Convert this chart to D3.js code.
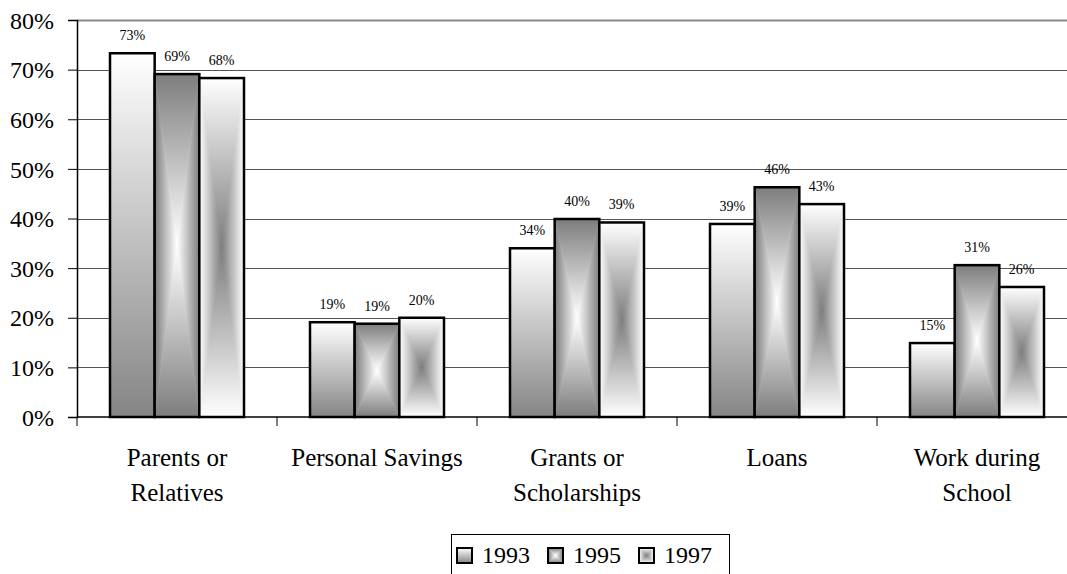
<!DOCTYPE html>
<meta charset="utf-8">
<style>
  body { margin: 0; background: #fff; }
  svg text { font-family: "Liberation Serif", "Times New Roman", serif; fill: #000; }
</style>
<svg width="1067" height="574"></svg>
<script src="https://d3js.org/d3.v7.min.js"></script>
<script>
  // data
  var categories = [["Parents or", "Relatives"], ["Personal Savings"], ["Grants or", "Scholarships"], ["Loans"], ["Work during", "School"]];
  var years = ["1993", "1995", "1997"];
  var v1993 = [73.3, 19.1, 34.0, 38.9, 14.9];
  var v1995 = [69.1, 18.8, 39.9, 46.3, 30.6];
  var v1997 = [68.3, 20.0, 39.2, 42.9, 26.2];
  var yTicks = [0, 10, 20, 30, 40, 50, 60, 70, 80];

  var series = [v1993, v1995, v1997];

  var svg = d3.select("svg"),
    plotL = 77, plotR = 1077, plotT = 20, plotB = 417;

  var x = d3.scaleBand()
    .domain(d3.range(categories.length))
    .range([plotL, plotR])
    .paddingInner(0.33)
    .paddingOuter(0.165);

  var xs = d3.scaleBand()
    .domain(years)
    .range([0, x.bandwidth()]);

  var y = d3.scaleLinear()
    .domain([0, 80])
    .range([plotB, plotT]);

  // gradients
  var defs = svg.append("defs");

  var lin = defs.append("linearGradient").attr("id", "g1993")
    .attr("x1", 0).attr("y1", 0).attr("x2", 0).attr("y2", 1);
  lin.append("stop").attr("offset", 0).attr("stop-color", "#ffffff");
  lin.append("stop").attr("offset", 1).attr("stop-color", "#858585");

  // rectangular "from centre" gradients, built from 4 triangles
  var dirs = {
    t: [0, 0, 0, 1],
    b: [0, 1, 0, 0],
    l: [0, 0, 1, 0],
    r: [1, 0, 0, 0]
  };
  function rectGrad(name, edge, centre) {
    Object.keys(dirs).forEach(function(k) {
      var d = dirs[k];
      var g = defs.append("linearGradient").attr("id", name + k)
        .attr("x1", d[0]).attr("y1", d[1]).attr("x2", d[2]).attr("y2", d[3]);
      g.append("stop").attr("offset", 0).attr("stop-color", edge);
      g.append("stop").attr("offset", 1).attr("stop-color", centre);
    });
  }
  rectGrad("g1995", "#7d7d7d", "#ffffff");
  rectGrad("g1997", "#ffffff", "#7d7d7d");

  function drawBar(sel, yr, x0, y0, w, h, sw) {
    var cx = x0 + w / 2, cy = y0 + h / 2, x1 = x0 + w, y1 = y0 + h;
    if (yr === "1993") {
      sel.append("rect").attr("x", x0).attr("y", y0).attr("width", w).attr("height", h)
        .attr("fill", "url(#g1993)");
    } else {
      var tris = {
        t: [[x0, y0], [x1, y0], [cx, cy]],
        b: [[x0, y1], [x1, y1], [cx, cy]],
        l: [[x0, y0], [x0, y1], [cx, cy]],
        r: [[x1, y0], [x1, y1], [cx, cy]]
      };
      Object.keys(tris).forEach(function(k) {
        sel.append("path")
          .attr("d", "M" + tris[k].join("L") + "Z")
          .attr("fill", "url(#g" + yr + k + ")")
          .attr("stroke", "url(#g" + yr + k + ")")
          .attr("stroke-width", 0.6);
      });
    }
    sel.append("rect").attr("x", x0).attr("y", y0).attr("width", w).attr("height", h)
      .attr("fill", "none").attr("stroke", "#000").attr("stroke-width", sw);
  }

  // grid lines
  svg.append("g").selectAll("line")
    .data(yTicks.filter(function(d) { return d > 0; }))
    .enter().append("line")
    .attr("x1", plotL).attr("x2", plotR)
    .attr("y1", function(d) { return Math.round(y(d)) + 0.5; })
    .attr("y2", function(d) { return Math.round(y(d)) + 0.5; })
    .attr("stroke", function(d) { return d === 80 ? "#8a8a8a" : "#555"; })
    .attr("stroke-width", function(d) { return d === 80 ? 2 : 1.2; });

  // y axis
  var yAxis = svg.append("g")
    .attr("transform", "translate(" + plotL + ",0)")
    .call(d3.axisLeft(y).tickValues(yTicks).tickSize(9).tickPadding(14)
      .tickFormat(function(d) { return d + "%"; }));
  yAxis.select(".domain").attr("stroke", "#000").attr("stroke-width", 1.5);
  yAxis.selectAll(".tick line").attr("stroke", "#000");
  yAxis.selectAll(".tick text").style("font-size", "24px").attr("font-family", null).attr("dy", "0.34em");

  // x axis
  var xTickPos = d3.range(categories.length + 1).map(function(i) {
    return i < categories.length ? x(i) - x.step() * x.paddingInner() / 2 : plotR;
  });
  svg.append("line").attr("x1", plotL).attr("x2", plotR).attr("y1", plotB).attr("y2", plotB)
    .attr("stroke", "#000").attr("stroke-width", 1.5);
  svg.append("g").selectAll("line").data(xTickPos).enter().append("line")
    .attr("x1", function(d) { return d; }).attr("x2", function(d) { return d; })
    .attr("y1", plotB).attr("y2", plotB + 9)
    .attr("stroke", "#000");

  // bars
  var groups = svg.append("g").selectAll("g")
    .data(categories)
    .enter().append("g");

  groups.each(function(c, i) {
    var g = d3.select(this);
    years.forEach(function(yr, j) {
      var v = series[j][i];
      var bx = x(i) + xs(yr);
      drawBar(g.append("g"), yr, bx, y(v), xs.bandwidth(), plotB - y(v), 2.5);
      g.append("text")
        .attr("x", bx + xs.bandwidth() / 2)
        .attr("y", y(v) - 13)
        .attr("text-anchor", "middle")
        .style("font-size", "14px")
        .text(Math.round(v) + "%");
    });
  });

  // category labels
  svg.append("g").selectAll("text")
    .data(categories)
    .enter().append("text")
    .attr("text-anchor", "middle")
    .attr("x", function(d, i) { return x(i) + x.bandwidth() / 2; })
    .attr("y", 466)
    .style("font-size", "25px")
    .each(function(d) {
      var t = d3.select(this);
      d.forEach(function(line, k) {
        t.append("tspan").attr("x", t.attr("x")).attr("dy", k === 0 ? 0 : 35).text(line);
      });
    });

  // legend
  var legend = svg.append("g");
  legend.append("rect").attr("x", 451.5).attr("y", 534.5).attr("width", 278).attr("height", 60)
    .attr("fill", "#fff").attr("stroke", "#000").attr("stroke-width", 1);
  years.forEach(function(yr, j) {
    var lx = 457 + j * 91;
    drawBar(legend.append("g"), yr, lx, 548, 15, 15, 2);
    legend.append("text").attr("x", lx + 25).attr("y", 563)
      .style("font-size", "24px").text(yr);
  });
</script>
